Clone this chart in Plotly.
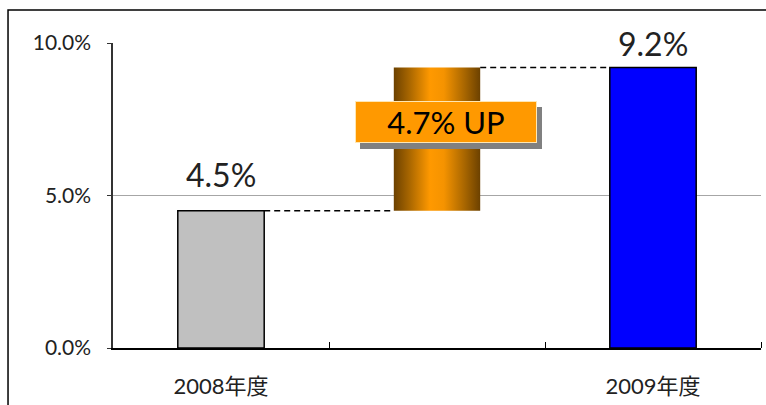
import plotly.graph_objects as go

# Fiscal-year rates (percent)
years = ["2008年度", "2009年度"]
rates = [4.5, 9.2]
bar_colors = ["#c0c0c0", "#0000ff"]
y_ticks = [0, 5, 10]

FONT = "Lato, Noto Sans CJK JP, sans-serif"
TEXT = "#222222"

x_pos = [0, 2]          # category slots; slot 1 holds the increase bar
mid = 1
bw = 0.4                # bar width (fraction of slot)
prev, cur = rates
diff = round(cur - prev, 1)

fig = go.Figure()

# year bars
fig.add_trace(go.Bar(
    x=x_pos, y=rates, width=bw,
    marker=dict(color=bar_colors, line=dict(color="black", width=1.5)),
    hoverinfo="skip", showlegend=False,
))

# floating increase bar with a metallic horizontal gradient
fig.add_trace(go.Scatter(
    x=[mid - bw / 2, mid + bw / 2, mid + bw / 2, mid - bw / 2, mid - bw / 2],
    y=[prev, prev, cur, cur, prev],
    mode="lines", fill="toself",
    line=dict(width=0, color="rgba(0,0,0,0)"),
    fillgradient=dict(
        type="horizontal",
        colorscale=[
            [0.0, "#6c4100"], [0.18, "#a86600"], [0.42, "#ff9900"],
            [0.58, "#f59300"], [0.82, "#a86600"], [1.0, "#6c4100"],
        ],
    ),
    hoverinfo="skip", showlegend=False,
))

# dashed connectors between bar tops and the increase bar
fig.add_trace(go.Scatter(
    x=[x_pos[0] + bw / 2, mid - bw / 2], y=[prev, prev], mode="lines",
    line=dict(color="black", width=1.5, dash="6px,4px"),
    hoverinfo="skip", showlegend=False,
))
fig.add_trace(go.Scatter(
    x=[mid + bw / 2, x_pos[1] - bw / 2], y=[cur, cur], mode="lines",
    line=dict(color="black", width=1.5, dash="6px,4px"),
    hoverinfo="skip", showlegend=False,
))

# value labels above bars
label_shift = [36, 24]
for xv, v, s in zip(x_pos, rates, label_shift):
    fig.add_annotation(
        x=xv, y=v, text=f"{v:.1f}%", showarrow=False,
        yanchor="middle", yshift=s,
        font=dict(family=FONT, size=32, color=TEXT),
    )

# "UP" badge with drop shadow
badge_y = prev + diff * 0.62
badge_text = f"{diff:.1f}% UP"
fig.add_annotation(
    x=mid, y=badge_y, text=" ", showarrow=False,
    xshift=9 + 5, yshift=-6,
    width=180, height=40, borderpad=0,
    bgcolor="#808080", bordercolor="#808080", borderwidth=1,
    font=dict(family=FONT, size=28, color="#808080"),
)
fig.add_annotation(
    x=mid, y=badge_y, text=badge_text, showarrow=False,
    xshift=9,
    width=180, height=40, borderpad=0,
    bgcolor="#ff9900", bordercolor="#ffe7b3", borderwidth=1,
    font=dict(family=FONT, size=31, color="black"),
)

# outer frame
fig.add_shape(
    type="rect", xref="paper", yref="paper",
    x0=-0.162, x1=1.2, y0=-0.3, y1=1.108,
    line=dict(color="black", width=1.5), fillcolor="rgba(0,0,0,0)",
    layer="below",
)

fig.update_layout(
    width=766, height=405,
    margin=dict(l=113, r=5, t=43, b=57),
    plot_bgcolor="white", paper_bgcolor="white",
    showlegend=False,
    xaxis=dict(
        range=[-0.5, 2.5],
        tickmode="array", tickvals=x_pos, ticktext=years,
        ticks="", showgrid=False, zeroline=False,
        showline=True, linecolor="black", linewidth=1.5,
        tickfont=dict(family=FONT, size=22, color=TEXT),
        ticklabelstandoff=18,
        minor=dict(tickmode="array", tickvals=[0.5, 1.5, 2.5],
                   ticks="inside", ticklen=6, tickcolor="black", tickwidth=1,
                   showgrid=False),
        fixedrange=True,
    ),
    yaxis=dict(
        range=[0, 10],
        tickmode="array", tickvals=y_ticks,
        ticktext=[f"{t:.1f}%" for t in y_ticks],
        ticks="outside", ticklen=4, tickcolor="#333333",
        showgrid=True, gridcolor="#a6a6a6", gridwidth=1,
        zeroline=False,
        showline=True, linecolor="#333333", linewidth=1.5,
        tickfont=dict(family=FONT, size=21, color=TEXT),
        ticklabelstandoff=12,
        fixedrange=True,
    ),
)

fig.write_html("out.html")
